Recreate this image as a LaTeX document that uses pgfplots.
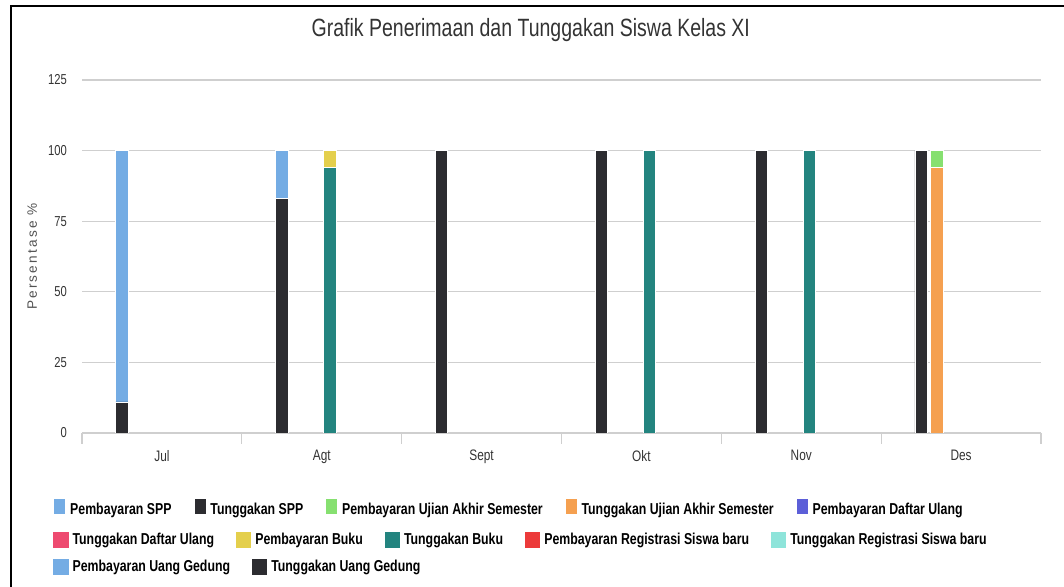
\documentclass[border=0pt]{standalone}
\usepackage{pgfplots}
\pgfplotsset{compat=1.18}
\usepackage{pgfplotstable}
\usepackage{fontspec}
\setmainfont{Liberation Sans}[FakeStretch=0.78]
\newfontfamily\ylabfont{Liberation Sans}[LetterSpace=16]

\definecolor{cPSPP}{HTML}{74ACE4}
\definecolor{cTSPP}{HTML}{2C2C30}
\definecolor{cPUAS}{HTML}{86E070}
\definecolor{cTUAS}{HTML}{F5A050}
\definecolor{cPDU}{HTML}{5C5FD8}
\definecolor{cTDU}{HTML}{EE4A70}
\definecolor{cPBK}{HTML}{E4CF4C}
\definecolor{cTBK}{HTML}{23847F}
\definecolor{cPREG}{HTML}{EC3A3A}
\definecolor{cTREG}{HTML}{8EE4DA}
\definecolor{cPUG}{HTML}{74ACE4}
\definecolor{cTUG}{HTML}{2C2C30}
\definecolor{txt}{HTML}{333333}
\definecolor{gridc}{HTML}{CFCFCF}

% one row per stack that has data: SPP at -0.25, Ujian at -0.15, Buku at +0.05
\pgfplotstableread{
x     TSPP PSPP TUAS PUAS TDU PDU TBK PBK TREG PREG TUG PUG
-0.25 11   89   0    0    0   0   0   0   0    0    0   0
0.75  83   17   0    0    0   0   0   0   0    0    0   0
1.05  0    0    0    0    0   0   94  6   0    0    0   0
1.75  100  0    0    0    0   0   0   0   0    0    0   0
2.75  100  0    0    0    0   0   0   0   0    0    0   0
3.05  0    0    0    0    0   0   100 0   0    0    0   0
3.75  100  0    0    0    0   0   0   0   0    0    0   0
4.05  0    0    0    0    0   0   100 0   0    0    0   0
4.75  100  0    0    0    0   0   0   0   0    0    0   0
4.85  0    0    94   6    0   0   0   0   0    0    0   0
}\data

\newcommand\legfont{\fontsize{7.9}{9}\selectfont\bfseries}

\pgfplotsset{
  base/.style={at={(41pt,77pt)}, anchor=south west, width=479.5pt, height=176.5pt, scale only axis},
  legrow/.style={legend columns=-1,
    legend style={draw=none, fill=none, inner sep=0pt, at={(0,0)}, anchor=west,
      xshift=-14.5pt, yshift=#1, font=\legfont, text=black,
      /tikz/every even column/.append style={column sep=9pt}},
    legend image code/.code={\path[##1] (0pt,-3.8pt) rectangle (7.6pt,3.8pt);}},
}

\begin{document}
\begin{tikzpicture}
\useasboundingbox (0,0) rectangle (532pt,293.5pt);
\begin{axis}[base, legrow=-38.5pt,
  ybar stacked, bar width=0.078,
  xmin=-0.5, xmax=5.5, ymin=0, ymax=125,
  enlargelimits=false,
  axis x line*=bottom, axis y line*=left,
  y axis line style={draw=none}, x axis line style={draw=gridc, line width=0.6pt},
  ytick={0,25,...,125}, ytick style={draw=none},
  ymajorgrids, major grid style={draw=gridc, line width=0.6pt},
  xtick={0,...,5}, xticklabels={Jul,Agt,Sept,Okt,Nov,Des},
  major x tick style={draw=none},
  extra x ticks={-0.5,0.5,...,5.5}, extra x tick labels={},
  extra x tick style={tick align=outside, major tick length=5.5pt, major x tick style={draw=gridc, line width=0.6pt}},
  /pgf/number format/assume math mode=true,
  yticklabel style={font=\fontsize{7.2}{8}\selectfont, text=txt, xshift=-4pt},
  xticklabel style={font=\fontsize{7.6}{9}\selectfont, text=txt, yshift=-5pt},
  ylabel={\ylabfont Persentase \%},
  ylabel style={at={(axis description cs:-0.052,0.5)}, anchor=center, rotate=0, font=\fontsize{6.8}{8}\selectfont, text=txt!85},
  title={Grafik Penerimaan dan Tunggakan Siswa Kelas XI},
  title style={at={(0.468,1)}, anchor=center, yshift=19pt, font=\fontsize{12.5}{14}\selectfont, text=txt},
  every axis plot/.append style={draw=white, line width=0.4pt},
]
\addplot[fill=cTSPP, forget plot] table[x=x, y=TSPP] {\data};
\addplot[fill=cPSPP, forget plot] table[x=x, y=PSPP] {\data};
\addplot[fill=cTUAS, forget plot] table[x=x, y=TUAS] {\data};
\addplot[fill=cPUAS, forget plot] table[x=x, y=PUAS] {\data};
\addplot[fill=cTDU, forget plot] table[x=x, y=TDU] {\data};
\addplot[fill=cPDU, forget plot] table[x=x, y=PDU] {\data};
\addplot[fill=cTBK, forget plot] table[x=x, y=TBK] {\data};
\addplot[fill=cPBK, forget plot] table[x=x, y=PBK] {\data};
\addplot[fill=cTREG, forget plot] table[x=x, y=TREG] {\data};
\addplot[fill=cPREG, forget plot] table[x=x, y=PREG] {\data};
\addplot[fill=cTUG, forget plot] table[x=x, y=TUG] {\data};
\addplot[fill=cPUG, forget plot] table[x=x, y=PUG] {\data};
\addlegendimage{fill=cPSPP, draw=none}\addlegendentry{Pembayaran SPP}
\addlegendimage{fill=cTSPP, draw=none}\addlegendentry{Tunggakan SPP}
\addlegendimage{fill=cPUAS, draw=none}\addlegendentry{Pembayaran Ujian Akhir Semester}
\addlegendimage{fill=cTUAS, draw=none}\addlegendentry{Tunggakan Ujian Akhir Semester}
\addlegendimage{fill=cPDU, draw=none}\addlegendentry{Pembayaran Daftar Ulang}
\end{axis}
% second legend row
\begin{axis}[base, hide axis, xmin=0, xmax=1, ymin=0, ymax=1, legrow=-53.5pt]
\addlegendimage{fill=cTDU, draw=none}\addlegendentry{Tunggakan Daftar Ulang}
\addlegendimage{fill=cPBK, draw=none}\addlegendentry{Pembayaran Buku}
\addlegendimage{fill=cTBK, draw=none}\addlegendentry{Tunggakan Buku}
\addlegendimage{fill=cPREG, draw=none}\addlegendentry{Pembayaran Registrasi Siswa baru}
\addlegendimage{fill=cTREG, draw=none}\addlegendentry{Tunggakan Registrasi Siswa baru}
\end{axis}
% third legend row
\begin{axis}[base, hide axis, xmin=0, xmax=1, ymin=0, ymax=1, legrow=-67pt]
\addlegendimage{fill=cPUG, draw=none}\addlegendentry{Pembayaran Uang Gedung}
\addlegendimage{fill=cTUG, draw=none}\addlegendentry{Tunggakan Uang Gedung}
\end{axis}
% screenshot frame
\draw[line width=1.4pt] (5.5pt,-2pt) -- (5.5pt,290.5pt) -- (540pt,290.5pt);
\end{tikzpicture}
\end{document}
